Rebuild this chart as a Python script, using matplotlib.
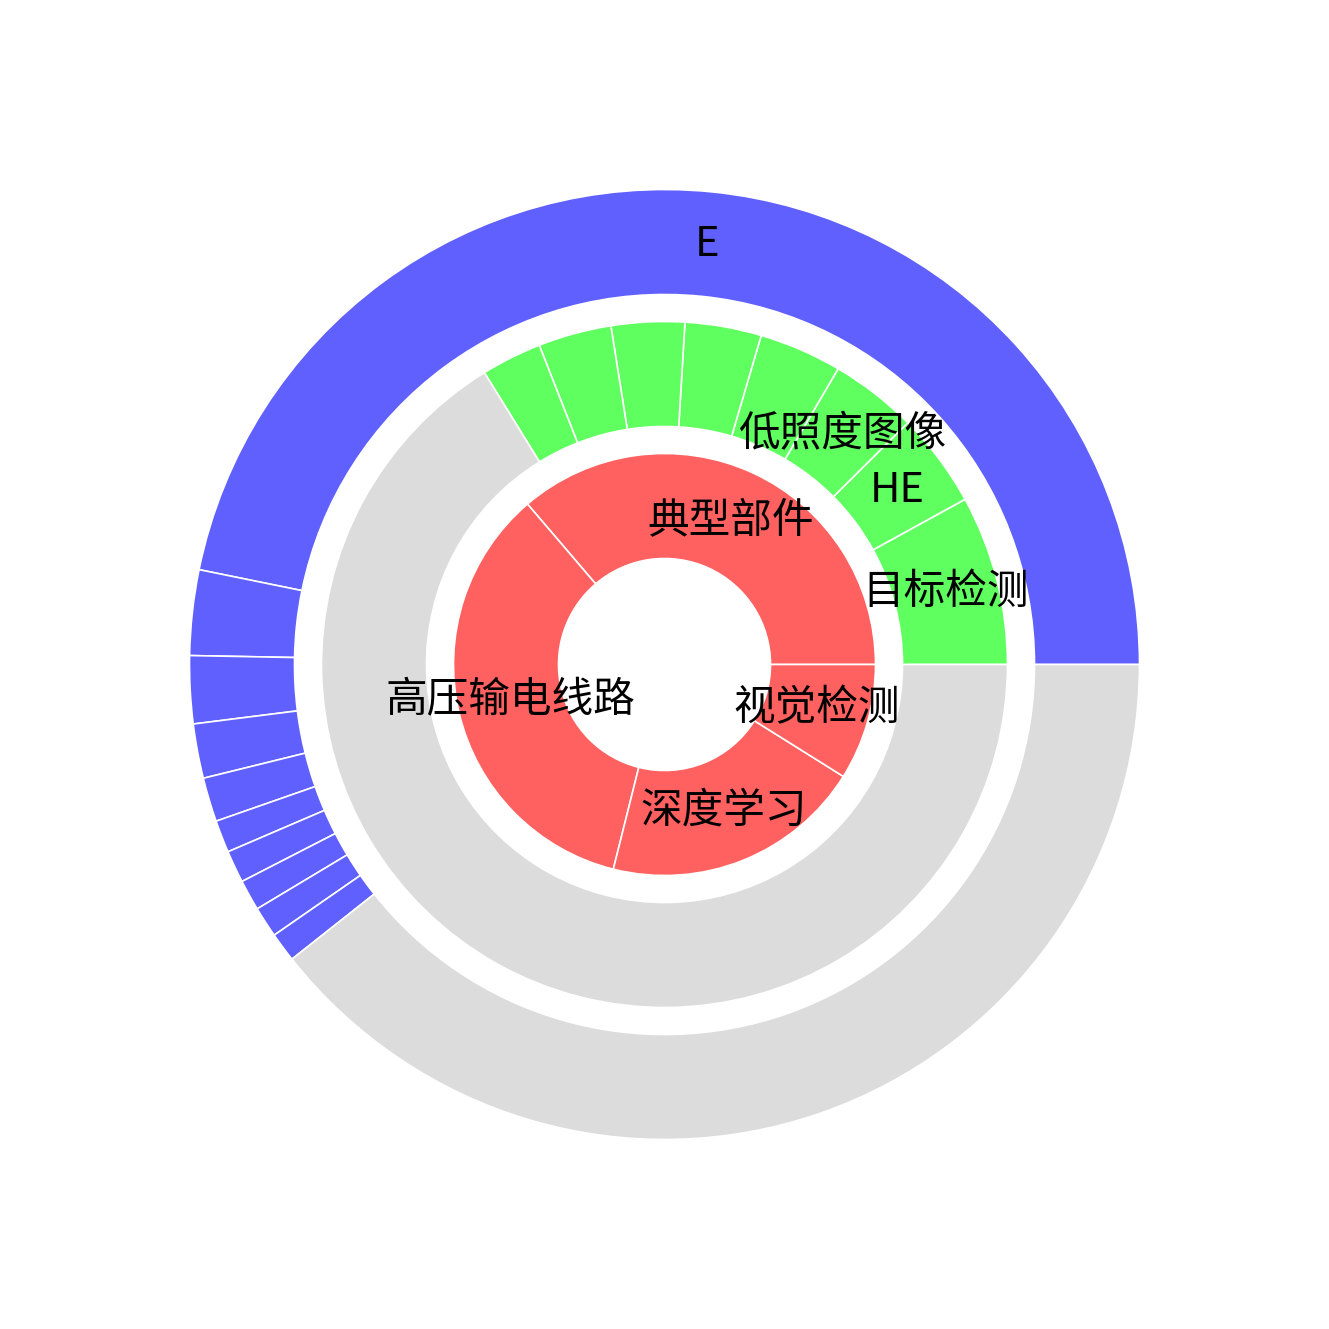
import numpy as np
import matplotlib
matplotlib.use("Agg")
import matplotlib.pyplot as plt

plt.rcParams['font.family'] = ['Noto Sans CJK SC', 'DejaVu Sans']

# ---------------------------------------------------------------------------
# Data (percent of the full circle)
# ---------------------------------------------------------------------------
inner_labels = ["典型部件", "高压输电线路", "深度学习", "视觉检测"]
inner_values = [36.25, 34.85, 20.0, 8.9]

middle_labels = ["目标检测", "HE", "低照度图像", "", "", "", "", ""]
middle_values = [8.0, 4.45, 4.1, 3.9, 3.6, 3.45, 3.45, 2.85]

outer_labels = ["E", "", "", "", "", "", "", "", "", ""]
outer_values = [46.8, 2.9, 2.3, 1.85, 1.5, 1.1, 1.1, 1.05, 1.05, 1.0]

RED, GREEN, BLUE, GREY = "#ff6060", "#60ff60", "#6060ff", "#dcdcdc"


def ring(ax, labels, values, color, r_out, width):
    vals = list(values)
    cols = [color] * len(vals)
    rest = 100.0 - sum(vals)
    if rest > 0.01:
        vals.append(rest)
        cols.append(GREY)
    wedges, _ = ax.pie(vals, radius=r_out, colors=cols, startangle=0,
                       counterclock=True, normalize=True,
                       wedgeprops=dict(width=width, edgecolor="white",
                                       linewidth=1.2))
    r_mid = r_out - width / 2
    for w, lab in zip(wedges, labels):
        if not lab:
            continue
        ang = np.deg2rad((w.theta1 + w.theta2) / 2)
        ax.text(r_mid * np.cos(ang), r_mid * np.sin(ang), lab,
                ha="center", va="center", fontsize=30, color="black")


fig = plt.figure(figsize=(13.29, 13.29), dpi=100)
ax = fig.add_axes([0, 0, 1, 1])

ring(ax, inner_labels, inner_values, RED, 211, 105)
ring(ax, middle_labels, middle_values, GREEN, 343, 105)
ring(ax, outer_labels, outer_values, BLUE, 475, 105)

ax.set_xlim(-664.5, 664.5)
ax.set_ylim(-664.5, 664.5)
ax.set_aspect("equal")
ax.axis("off")

fig.savefig("out.png", dpi=100, facecolor="white")
